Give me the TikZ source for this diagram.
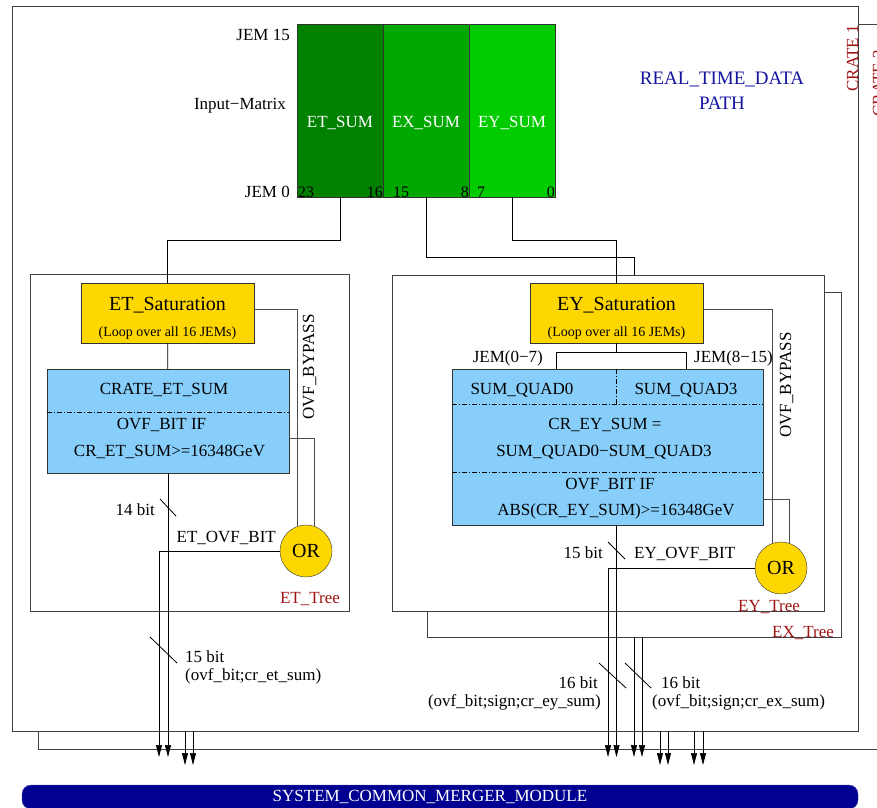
\documentclass[tikz,border=0pt]{standalone}
\usepackage{fontspec}
\setmainfont{Liberation Serif}
\usetikzlibrary{calc,positioning,arrows.meta}
\definecolor{jemdark}{RGB}{0,130,0}
\definecolor{jemmid}{RGB}{0,168,0}
\definecolor{jemlight}{RGB}{0,204,0}
\definecolor{satgold}{RGB}{255,215,0}
\definecolor{sumblue}{RGB}{135,206,250}
\definecolor{scmblue}{RGB}{0,0,145}
\definecolor{treered}{RGB}{160,20,20}
\definecolor{pathblue}{RGB}{20,20,160}
\newcommand{\satfont}{\fontsize{20}{26}\selectfont\rule{0pt}{24pt}}
\tikzset{
	crate/.style={
		draw=black!75, fill=white, inner sep=0pt,
		minimum width=846pt, minimum height=725pt
	},
	tree/.style={draw=black!75, fill=white, inner sep=0pt},
	jemcol/.style={
		draw=black!80, inner sep=0pt, outer sep=0pt,
		minimum width=86pt, minimum height=173pt
	},
	satbox/.style={
		draw=black!80, fill=satgold, align=center,
		minimum width=173pt, minimum height=60pt,
		font=\fontsize{14}{26}\selectfont
	},
	sumbox/.style={draw=black!80, fill=sumblue, inner sep=0pt},
	orgate/.style={
		draw=black!80, fill=satgold, circle, inner sep=0pt,
		minimum size=52pt, font=\fontsize{20}{24}\selectfont
	},
	txt/.style={inner sep=0pt, anchor=base, font=\fontsize{17}{20}\selectfont},
	bitnr/.style={inner sep=0pt, font=\fontsize{16}{18}\selectfont},
	treelbl/.style={txt, text=treered},
	cratelbl/.style={txt, text=treered, rotate=90},
	split/.style={dash pattern=on 5pt off 2pt on 1pt off 2pt, line width=0.6pt},
	wire/.style={line width=0.7pt},
	bypass/.style={line width=0.7pt, black!70},
	sig/.style={line width=0.7pt, -{Triangle[length=12pt,width=6pt]}},
	bustick/.style={line width=0.8pt},
	scmbar/.style={
		fill=scmblue, draw=scmblue!70, rounded corners=9pt,
		minimum width=836pt, minimum height=24pt
	},
}

\begin{document}
\begin{tikzpicture}[x=1pt, y=-1pt]
	\useasboundingbox (0,0) rectangle (877,807);
	\clip (0,0) rectangle (877,807);

	% crates, the second one lies behind
	\node[crate] (cratetwo) at (461,386.5) {};
	\node[cratelbl, anchor=base east] at ([yshift=-26pt]cratetwo.north east) {CRATE 2};
	\node[crate] (crateone) at (435,368.5) {};
	\node[cratelbl, anchor=base east] at ([yshift=-19pt]crateone.north east) {CRATE 1};
	\foreach \x in {185,193,660,668,694,703}
		\draw[sig] (\x,0 |- crateone.south) -- (\x,765);

	% input matrix
	\node[jemcol, fill=jemdark] (etcol) at (340,110.5) {};
	\node[jemcol, fill=jemmid, right=0pt of etcol] (excol) {};
	\node[jemcol, fill=jemlight, right=0pt of excol] (eycol) {};
	\foreach \c/\t in {etcol/ET, excol/EX, eycol/EY}
		\node[txt, text=white] at ([yshift=-17pt]\c.center) {\t\_SUM};
	\node[bitnr, anchor=base west] at ([xshift=1pt]etcol.south west) {23};
	\node[bitnr, anchor=base east] at (etcol.south east) {16};
	\node[bitnr, anchor=base west] at ([xshift=10pt]excol.south west) {15};
	\node[bitnr, anchor=base east] at (excol.south east) {8};
	\node[bitnr, anchor=base west] at ([xshift=8pt]eycol.south west) {7};
	\node[bitnr, anchor=base east] at (eycol.south east) {0};
	\node[txt, anchor=base east] at ([xshift=-7pt,yshift=-16.5pt]etcol.north west) {JEM 15};
	\node[txt, anchor=base east] at ([xshift=-11pt,yshift=1pt]etcol.west) {Input−Matrix};
	\node[txt, anchor=base east] at ([xshift=-7pt]etcol.south west) {JEM 0};
	\node[txt, anchor=center, text=pathblue, align=center, font=\fontsize{19}{25}\selectfont]
		at (722,90.5) {REAL\_TIME\_DATA\\PATH};

	% tree boxes
	\node[tree, minimum width=414pt, minimum height=345pt] (extree) at (634,464.5) {};
	\draw[wire] (excol.south) -- ++(0,60) -| (extree.north);
	\node[tree, minimum width=432pt, minimum height=336pt] (eytree) at (608,443) {};
	\node[tree, minimum width=319pt, minimum height=337pt] (ettree) at (189.5,442.5) {};

	% ET tree
	\node[satbox] (etsat) at (167.5,313) {{\satfont ET\_Saturation}\\(Loop over all 16 JEMs)};
	\node[sumbox, minimum width=242pt, minimum height=104pt] (etsum) at (168,421) {};
	\draw[wire] (etcol.south) -- ++(0,43) -| (etsat.north);
	\draw[wire] (etsat) -- (etsum);
	\draw[split] (etsum.west |- 0,412) -- (etsum.east |- 0,412);
	\node[txt] at (164,394.5) {CRATE\_ET\_SUM};
	\node[txt] at (161.5,429.5) {OVF\_BIT IF};
	\node[txt] at (169.5,456.5) {CR\_ET\_SUM>=16348GeV};
	\node[orgate] (etor) at (306,551) {OR};
	\draw[bypass] ([yshift=4pt]etsat.east) -| (etor.110);
	\draw[bypass] ([yshift=-17pt]etsum.east) -| (etor.72);
	\node[txt, rotate=90] at (314,367) {OVF\_BYPASS};
	\coordinate (etout) at (159,757);
	\draw[sig] (etor.west) -| (etout);
	\draw[sig] (etsum.south) -- (etsum.south |- etout);
	\draw[bustick] (160,499) -- (176,516);
	\node[txt, anchor=base east] at (155,515.5) {14 bit};
	\node[txt, anchor=base east] at (276,542.5) {ET\_OVF\_BIT};
	\node[treelbl] at (310,603.5) {ET\_Tree};
	\draw[bustick] (150,637) -- (177,663);
	\node[txt, anchor=base west] at (185,662.5) {15 bit};
	\node[txt, anchor=base west] at (185,680) {(ovf\_bit;cr\_et\_sum)};

	% EY tree
	\node[satbox] (eysat) at (616.5,313) {{\satfont EY\_Saturation}\\(Loop over all 16 JEMs)};
	\node[sumbox, minimum width=311pt, minimum height=156pt] (eysum) at (607.5,447) {};
	\draw[wire] (eycol.south) -- ++(0,43) -| (eysat.north);
	\draw[wire] (eysat.south) -- ++(0,9) coordinate (eyfork);
	\coordinate (quadzero) at (556,0 |- eysum.north);
	\coordinate (quadthree) at (686,0 |- eysum.north);
	\draw[wire] (eyfork) -| (quadzero);
	\draw[wire] (eyfork) -| (quadthree);
	\node[txt, anchor=base east] at (543,362.5) {JEM(0−7)};
	\node[txt, anchor=base west] at (694,362.5) {JEM(8−15)};
	\draw[split] (eysum.west |- 0,404) -- (eysum.east |- 0,404);
	\draw[split] (eysum.west |- 0,472) -- (eysum.east |- 0,472);
	\draw[split] (eysat.south |- eysum.north) -- (eysat.south |- 0,404);
	\node[txt] at (522,394.5) {SUM\_QUAD0};
	\node[txt] at (686,394.5) {SUM\_QUAD3};
	\node[txt] at (605,429.5) {CR\_EY\_SUM =};
	\node[txt] at (604,456.5) {SUM\_QUAD0−SUM\_QUAD3};
	\node[txt] at (610,489.5) {OVF\_BIT IF};
	\node[txt] at (616,515.5) {ABS(CR\_EY\_SUM)>=16348GeV};
	\node[orgate] (eyor) at (781,568) {OR};
	\draw[bypass] ([yshift=4pt]eysat.east) -| (eyor.110);
	\draw[bypass] ([yshift=-52pt]eysum.east) -| (eyor.72);
	\node[txt, rotate=90] at (791,385) {OVF\_BYPASS};
	\coordinate (eyout) at (608,757);
	\draw[sig] (eyor.west) -| (eyout);
	\draw[sig] (eysat.south |- eysum.south) -- (eysat.south |- eyout);
	\draw[bustick] (608,542) -- (625,559);
	\node[txt, anchor=base east] at (603,558.5) {15 bit};
	\node[txt, anchor=base west] at (634,558.5) {EY\_OVF\_BIT};
	\node[treelbl] at (769,611.5) {EY\_Tree};
	\node[treelbl] at (803,637.5) {EX\_Tree};

	% EX tree outputs
	\coordinate (exovf) at ([xshift=8pt]extree.south);
	\draw[sig] (extree.south) -- (extree.south |- eyout);
	\draw[sig] (exovf) -- (exovf |- eyout);
	\draw[bustick] (599,663) -- (626,688);
	\draw[bustick] (625,663) -- (651,688);
	\node[txt, anchor=base east] at (598,688.5) {16 bit};
	\node[txt, anchor=base east] at (601,706) {(ovf\_bit;sign;cr\_ey\_sum)};
	\node[txt, anchor=base west] at (661,688.5) {16 bit};
	\node[txt, anchor=base west] at (652,706) {(ovf\_bit;sign;cr\_ex\_sum)};

	% system common merger module
	\node[scmbar] (scm) at (440,797) {};
	\node[txt, text=white] at (430,801.5) {SYSTEM\_COMMON\_MERGER\_MODULE};
\end{tikzpicture}
\end{document}
